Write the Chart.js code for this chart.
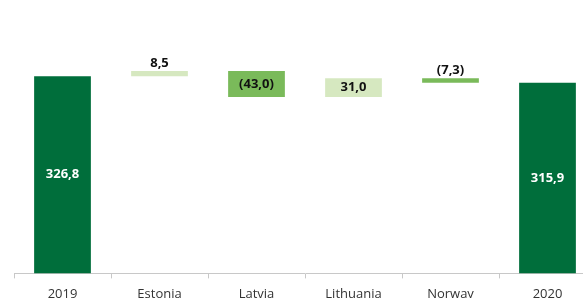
<!DOCTYPE html>
<html>
<head>
<meta charset="utf-8">
<script src="https://cdn.jsdelivr.net/npm/chart.js@4"></script>
<style>
  html, body { margin: 0; padding: 0; background: #fff; overflow: hidden; }
  #wrap { position: relative; width: 600px; height: 310px; }
</style>
</head>
<body>
<div id="wrap"><canvas id="chart"></canvas></div>
<script>
// Datos del gráfico (cascada)
var categories = ['2019', 'Estonia', 'Latvia', 'Lithuania', 'Norway', '2020'];
var startValue = 326.8;
var changes = [8.5, -43.0, 31.0, -7.3];
var endValue = 315.9;
var valueLabels = ['326,8', '8,5', '(43,0)', '31,0', '(7,3)', '315,9'];

// Colores
var cTotal = '#006e3b';
var cUp = '#d6e8c0';
var cDown = '#7aba5a';

// Construir barras flotantes
var bars = [[0, startValue]];
var colors = [cTotal];
var level = startValue;
for (let i = 0; i < changes.length; i++) {
  let next = level + changes[i];
  bars.push([Math.min(level, next), Math.max(level, next)]);
  colors.push(changes[i] >= 0 ? cUp : cDown);
  level = next;
}
bars.push([0, endValue]);
colors.push(cTotal);

// Etiquetas de valor
var labelPlugin = {
  id: 'valueLabels',
  afterDatasetsDraw(chart) {
    let ctx = chart.ctx;
    let meta = chart.getDatasetMeta(0);
    ctx.save();
    ctx.font = 'bold 13px "Open Sans"';
    ctx.textAlign = 'center';
    meta.data.forEach((bar, i) => {
      let top = Math.min(bar.y, bar.base);
      let h = Math.abs(bar.base - bar.y);
      if (h < 12) {
        ctx.fillStyle = '#111';
        ctx.textBaseline = 'bottom';
        ctx.fillText(valueLabels[i], bar.x, top - 1);
      } else {
        ctx.fillStyle = (i === 0 || i === bars.length - 1) ? '#fff' : '#111';
        ctx.textBaseline = 'middle';
        ctx.fillText(valueLabels[i], bar.x, top + h / 2);
      }
    });
    ctx.restore();
  }
};

new Chart(document.getElementById('chart'), {
  type: 'bar',
  data: {
    labels: categories,
    datasets: [{
      data: bars,
      backgroundColor: colors,
      borderWidth: 0,
      barPercentage: 0.585,
      categoryPercentage: 1.0
    }]
  },
  options: {
    responsive: true,
    maintainAspectRatio: false,
    animation: false,
    layout: { padding: { left: 14, right: 4, top: 0, bottom: 0 } },
    plugins: { legend: { display: false }, tooltip: { enabled: false } },
    scales: {
      x: {
        offset: true,
        grid: { display: true, drawOnChartArea: false, drawTicks: true, tickLength: 5, color: '#c8c8c8', offset: true },
        border: { color: '#c8c8c8' },
        ticks: { color: '#333', font: { family: 'Open Sans', size: 13 }, padding: 8 }
      },
      y: {
        display: false,
        min: 0,
        max: 453
      }
    }
  },
  plugins: [labelPlugin]
});
</script>
</body>
</html>
